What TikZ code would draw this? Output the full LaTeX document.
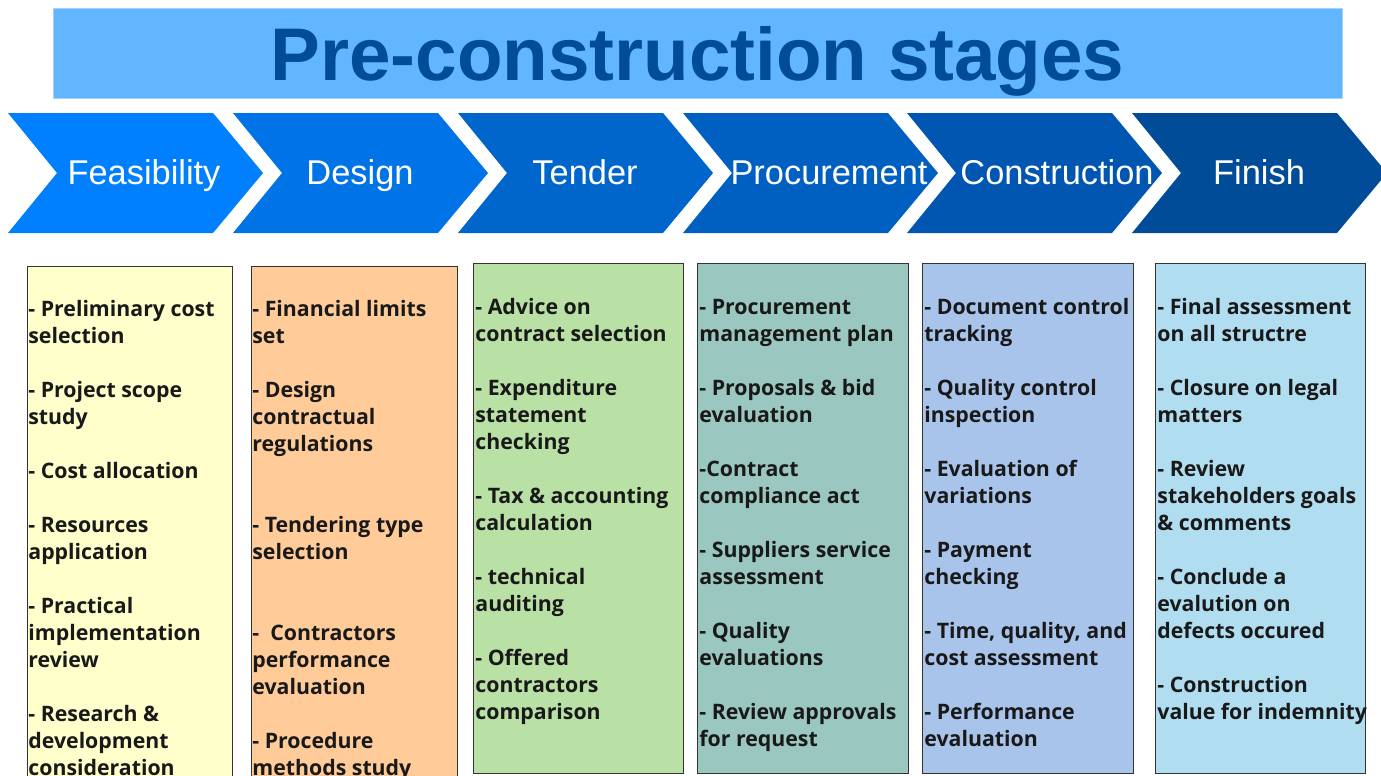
\documentclass[tikz,border=0pt]{standalone}
\usepackage{fontspec}
\setmainfont{Liberation Sans}
\newfontfamily\notefont{Open Sans}
\usetikzlibrary{positioning}

\definecolor{bandblue}{HTML}{62B6FF}
\definecolor{bandedge}{HTML}{A4D3FF}
\definecolor{headblue}{HTML}{004C99}
\definecolor{stepA}{HTML}{0080FF}
\definecolor{stepB}{HTML}{0073E6}
\definecolor{stepC}{HTML}{0066CC}
\definecolor{stepD}{HTML}{0060C2}
\definecolor{stepE}{HTML}{0056B0}
\definecolor{stepF}{HTML}{004C99}
\definecolor{noteA}{HTML}{FFFFCC}
\definecolor{noteB}{HTML}{FFCC99}
\definecolor{noteC}{HTML}{B9E0A5}
\definecolor{noteD}{HTML}{9AC7BF}
\definecolor{noteE}{HTML}{A9C4EB}
\definecolor{noteF}{HTML}{B1DDF0}

\tikzset{
  steplabel/.style={text=white,inner sep=0pt,anchor=base,
    font=\fontsize{17.2}{20}\selectfont},
  notebox/.style={draw=black!80,line width=0.5pt},
  notetext/.style={inner sep=0pt,anchor=base west,text=black!90,
    font=\notefont\fontsize{10.65}{13.5}\selectfont\bfseries}
}

\begin{document}
\begin{tikzpicture}[x=0.5pt,y=-0.5pt]
\useasboundingbox (0,0) rectangle (1381,776);
\clip (0,0) rectangle (1381,776);

% title band
\draw[fill=bandblue,draw=bandedge] (53,8) rectangle (1342,98);
\node[anchor=base,inner sep=0pt,text=headblue,
  font=\bfseries\fontsize{37.3}{40}\selectfont] (title) at (697.5,80) {Pre-construction stages};

% stage arrows
\foreach \x/\col/\name/\cx in {8/stepA/Feasibility/144, 233/stepB/Design/360,
    458/stepC/Tender/585, 683/stepD/Procurement/829,
    907/stepE/Construction/1057, 1132/stepF/Finish/1259}{
  \fill[\col] (\x,113) -- ++(205,0) -- ++(50,60) -- ++(-50,60) -- ++(-205,0) -- ++(49,-60) -- cycle;
  \node[steplabel] (lbl-\name) at (\cx,184) {\name};
}

% task columns
\draw[notebox,fill=noteA] (27,266) rectangle (232,800);
\draw[notebox,fill=noteB] (251,266) rectangle (457,800);
\draw[notebox,fill=noteC] (473,263) rectangle (683,773);
\draw[notebox,fill=noteD] (697,263) rectangle (908,773);
\draw[notebox,fill=noteE] (922,263) rectangle (1133,773);
\draw[notebox,fill=noteF] (1155,263) rectangle (1365,773);

\node[notetext] (feas) at (28,316) {\parbox[t]{130pt}{\raggedright
- Preliminary cost\\selection\\[13.5pt]
- Project scope\\study\\[13.5pt]
- Cost allocation\\[13.5pt]
- Resources\\application\\[13.5pt]
- Practical\\implementation\\review\\[13.5pt]
- Research \&\\development\\consideration}};

\node[notetext] (design) at (252,316) {\parbox[t]{130pt}{\raggedright
- Financial limits\\set\\[13.5pt]
- Design\\contractual\\regulations\\[27pt]
- Tendering type\\selection\\[27pt]
-\ \ Contractors\\performance\\evaluation\\[13.5pt]
- Procedure\\methods study}};

\node[notetext] (tender) at (475,314) {\parbox[t]{130pt}{\raggedright
- Advice on\\contract selection\\[13.5pt]
- Expenditure\\statement\\checking\\[13.5pt]
- Tax \& accounting\\calculation\\[13.5pt]
- technical\\auditing\\[13.5pt]
- Offered\\contractors\\comparison}};

\node[notetext] (procure) at (699,314) {\parbox[t]{130pt}{\raggedright
- Procurement\\management plan\\[13.5pt]
- Proposals \& bid\\evaluation\\[13.5pt]
-Contract\\compliance act\\[13.5pt]
- Suppliers service\\assessment\\[13.5pt]
- Quality\\evaluations\\[13.5pt]
- Review approvals\\for request}};

\node[notetext] (constr) at (924,314) {\parbox[t]{130pt}{\raggedright
- Document control\\tracking\\[13.5pt]
- Quality control\\inspection\\[13.5pt]
- Evaluation of\\variations\\[13.5pt]
- Payment\\checking\\[13.5pt]
- Time, quality, and\\cost assessment\\[13.5pt]
- Performance\\evaluation}};

\node[notetext] (finish) at (1157,314) {\parbox[t]{130pt}{\raggedright
- Final assessment\\on all structre\\[13.5pt]
- Closure on legal\\matters\\[13.5pt]
- Review\\stakeholders goals\\\& comments\\[13.5pt]
- Conclude a\\evalution on\\defects occured\\[13.5pt]
- Construction\\value for indemnity}};
\end{tikzpicture}
\end{document}
